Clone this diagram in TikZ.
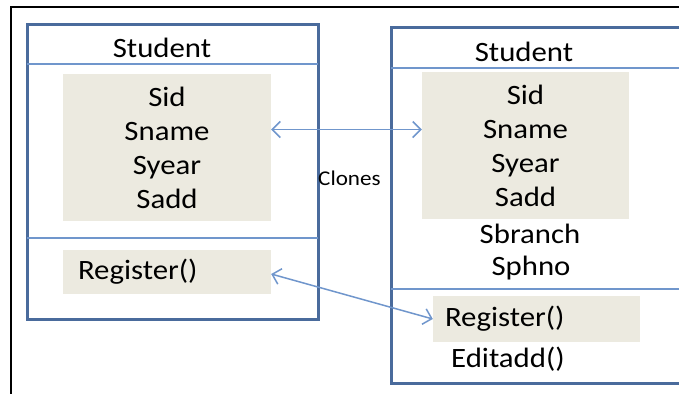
\documentclass[tikz,border=0pt]{standalone}
\usepackage{fontspec}
\setmainfont{Carlito}[FakeStretch=1.1]
\usetikzlibrary{arrows.meta,positioning}
\definecolor{boxblue}{RGB}{74,107,156}
\definecolor{lineblue}{RGB}{112,150,204}
\definecolor{fieldgray}{RGB}{236,234,224}
\tikzset{
  classbox/.style={draw=boxblue,line width=3pt},
  divider/.style={draw=lineblue,line width=1.5pt},
  field/.style={fill=fieldgray,inner sep=0pt,align=center},
  link/.style={draw=lineblue,line width=1.5pt,{Straight Barb[length=8pt,width=16pt]}-{Straight Barb[length=8pt,width=16pt]}},
}
\begin{document}
\begin{tikzpicture}[x=1pt,y=-1pt,font=\fontsize{28}{34}\selectfont]
	\useasboundingbox (0,0) rectangle (679,394);
	\draw[line width=2pt] (679,7) -- (11,7) -- (11,394);
	% parent class
	\draw[classbox] (27,24) rectangle (318,319);
	\draw[divider] (27,64) -- (318,64) (27,238) -- (318,238);
	\node[anchor=base] (lname) at (162,57) {Student};
	\node[field,minimum width=208pt,minimum height=147pt] (lattr) at (167,147.5) {Sid\\Sname\\Syear\\Sadd};
	\node[field,text width=178pt,inner xsep=15pt,align=left,minimum height=44pt] (lreg) at (167,272) {Register()};
	% cloned class
	\draw[classbox] (679,27) -- (391,27) -- (391,383) -- (679,383);
	\draw[divider] (391,68) -- (679,68) (391,289) -- (679,289);
	\node[anchor=base] (rname) at (524,61) {Student};
	\node[field,minimum width=207pt,minimum height=147pt] (rattr) at (525.5,145.5) {Sid\\Sname\\Syear\\Sadd};
	\node[anchor=base] (sbranch) at (530,243) {Sbranch};
	\node[anchor=base] (sphno) at (531,275) {Sphno};
	\node[field,text width=183pt,inner xsep=12pt,align=left,minimum height=46pt] (rreg) at (536.5,319) {Register()};
	\node[anchor=base west,inner sep=0pt] (editadd) at (451,367) {Editadd()};
	% links
	\draw[link] ([yshift=18pt]lattr.east) -- ([yshift=18pt]lattr.east -| rattr.west);
	\draw[link] ([yshift=-2pt]lreg.east) -- (rreg.west);
	\node[font=\fontsize{21}{25}\selectfont,anchor=base west,inner sep=0pt] (clones) at (318,185) {Clones};
\end{tikzpicture}
\end{document}
